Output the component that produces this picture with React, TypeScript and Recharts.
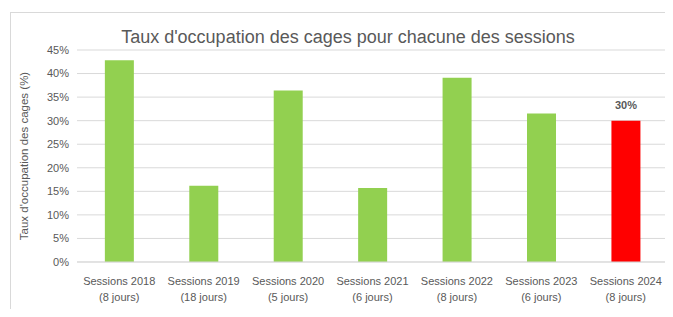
import { Bar, BarChart, CartesianGrid, Cell, LabelList, XAxis, YAxis } from "recharts";

const sessions = [
  "Sessions 2018",
  "Sessions 2019",
  "Sessions 2020",
  "Sessions 2021",
  "Sessions 2022",
  "Sessions 2023",
  "Sessions 2024",
];
const durations = ["(8 jours)", "(18 jours)", "(5 jours)", "(6 jours)", "(8 jours)", "(6 jours)", "(8 jours)"];
const occupation = [42.8, 16.2, 36.4, 15.7, 39.1, 31.5, 30];
const highlighted = [false, false, false, false, false, false, true];
const yTicks = [0, 5, 10, 15, 20, 25, 30, 35, 40, 45];

const data = sessions.map((s, i) => ({
  name: s,
  sub: durations[i],
  value: occupation[i],
  hl: highlighted[i],
}));

const FONT = "'Liberation Sans', Arial, sans-serif";
const GRAY = "#595959";

function SessionTick(props: any) {
  const { x, y, payload, index } = props;
  return (
    <text x={x} y={y} textAnchor="middle" fill={GRAY} fontSize={11} fontFamily={FONT}>
      <tspan x={x} dy={15}>{payload.value}</tspan>
      <tspan x={x} dy={16}>{durations[index]}</tspan>
    </text>
  );
}

export default function App() {
  return (
    <div style={{ position: "relative", width: 673, height: 317, margin: -8, background: "#fff", overflow: "hidden" }}>
      <div
        style={{
          position: "absolute",
          left: 10,
          top: 12,
          width: 680,
          height: 302,
          border: "1px solid #d9d9d9",
        }}
      />
      <div
        style={{
          position: "absolute",
          left: 0,
          width: 696,
          top: 27,
          textAlign: "center",
          fontFamily: FONT,
          fontSize: 18,
          color: GRAY,
        }}
      >
        Taux d'occupation des cages pour chacune des sessions
      </div>
      <div
        style={{
          position: "absolute",
          left: 24,
          top: 156,
          transform: "translate(-50%, -50%) rotate(-90deg)",
          whiteSpace: "nowrap",
          fontFamily: FONT,
          fontSize: 11.5,
          color: GRAY,
        }}
      >
        Taux d'occupation des cages (%)
      </div>
      <BarChart
        width={673}
        height={317}
        data={data}
        margin={{ top: 50, right: 5, bottom: 15, left: 27 }}
        barCategoryGap="33%"
        style={{ position: "absolute", left: 0, top: 0 }}
      >
        <CartesianGrid vertical={false} stroke="#d9d9d9" />
        <XAxis
          dataKey="name"
          height={40}
          tick={<SessionTick />}
          tickLine={false}
          axisLine={{ stroke: "#d9d9d9" }}
          interval={0}
        />
        <YAxis
          width={50}
          domain={[0, 45]}
          ticks={yTicks}
          tickFormatter={(v) => `${v}%`}
          tickLine={false}
          axisLine={false}
          tick={{ fill: GRAY, fontSize: 11, fontFamily: FONT }}
        />
        <Bar dataKey="value" isAnimationActive={false}>
          {data.map((d, i) => (
            <Cell key={i} fill={d.hl ? "#ff0000" : "#92d050"} />
          ))}
          <LabelList
            dataKey="value"
            position="top"
            offset={10}
            content={(p: any) =>
              data[p.index]?.hl ? (
                <text
                  x={p.x + p.width / 2}
                  y={p.y - 12}
                  textAnchor="middle"
                  fill={GRAY}
                  fontSize={11}
                  fontWeight="bold"
                  fontFamily={FONT}
                >
                  {`${p.value}%`}
                </text>
              ) : null
            }
          />
        </Bar>
      </BarChart>
    </div>
  );
}
